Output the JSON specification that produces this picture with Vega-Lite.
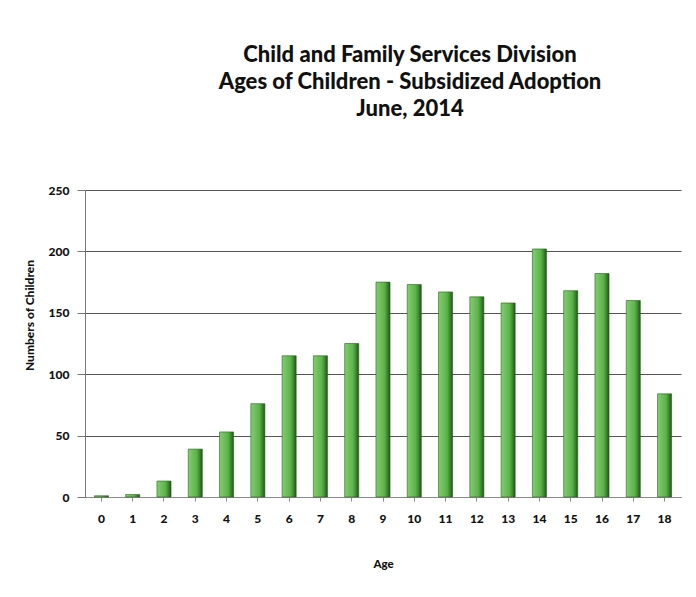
{
  "$schema": "https://vega.github.io/schema/vega-lite/v6.json",
  "autosize": "none",
  "width": 596,
  "height": 307,
  "padding": {"left": 85, "top": 190, "right": 15, "bottom": 100},
  "background": "white",
  "title": {
    "text": ["Child and Family Services Division", "Ages of Children - Subsidized Adoption", "June, 2014"],
    "font": "Lato",
    "fontSize": 22,
    "fontWeight": 900,
    "lineHeight": 27,
    "color": "#111111",
    "anchor": "middle",
    "dx": 27,
    "offset": 63
  },
  "data": {
    "values": [
      {"Age": "0", "Children": 1},
      {"Age": "1", "Children": 2},
      {"Age": "2", "Children": 13},
      {"Age": "3", "Children": 39},
      {"Age": "4", "Children": 53},
      {"Age": "5", "Children": 76},
      {"Age": "6", "Children": 115},
      {"Age": "7", "Children": 115},
      {"Age": "8", "Children": 125},
      {"Age": "9", "Children": 175},
      {"Age": "10", "Children": 173},
      {"Age": "11", "Children": 167},
      {"Age": "12", "Children": 163},
      {"Age": "13", "Children": 158},
      {"Age": "14", "Children": 202},
      {"Age": "15", "Children": 168},
      {"Age": "16", "Children": 182},
      {"Age": "17", "Children": 160},
      {"Age": "18", "Children": 84}
    ]
  },
  "mark": {
    "type": "bar",
    "color": {
      "gradient": "linear",
      "x1": 0, "x2": 1, "y1": 0, "y2": 0,
      "stops": [
        {"offset": 0, "color": "#80cf6e"},
        {"offset": 0.6, "color": "#5eb24c"},
        {"offset": 0.8, "color": "#3d8a30"},
        {"offset": 1, "color": "#1f5416"}
      ]
    },
    "stroke": "#2a5e20",
    "strokeWidth": 0.6
  },
  "encoding": {
    "x": {
      "field": "Age",
      "type": "ordinal",
      "sort": null,
      "scale": {"paddingInner": 0.55, "paddingOuter": 0.3},
      "axis": {
        "title": "Age",
        "titleFont": "Lato",
        "titleFontSize": 11.5,
        "titleFontWeight": 900,
        "titleColor": "#111111",
        "titlePadding": 34,
        "labelAngle": 0,
        "labelFont": "Lato",
        "labelFontSize": 12,
        "labelFontWeight": 900,
        "labelColor": "#111111",
        "labelPadding": 12,
        "domainColor": "#8a8a8a",
        "tickColor": "#8a8a8a",
        "tickSize": 4
      }
    },
    "y": {
      "field": "Children",
      "type": "quantitative",
      "scale": {"domain": [0, 250]},
      "axis": {
        "title": "Numbers of Children",
        "titleFont": "Lato",
        "titleFontSize": 12,
        "titleFontWeight": 900,
        "titleColor": "#111111",
        "titlePadding": 12,
        "titleY": 125,
        "values": [0, 50, 100, 150, 200, 250],
        "labelFont": "Lato",
        "labelFontSize": 12,
        "labelFontWeight": 900,
        "labelColor": "#111111",
        "labelPadding": 8,
        "tickSize": 8,
        "tickColor": "#777777",
        "domainColor": "#777777",
        "grid": true,
        "gridColor": "#555555",
        "gridWidth": 1
      }
    }
  },
  "config": {
    "view": {"stroke": null}
  }
}
